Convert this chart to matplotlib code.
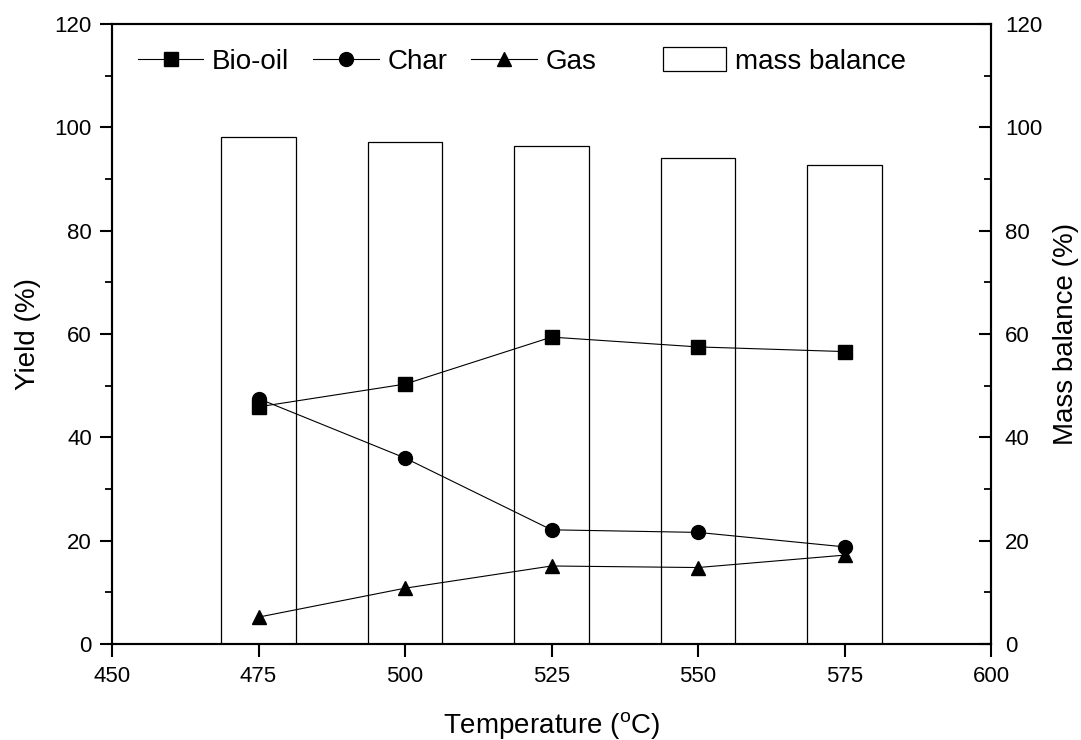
import matplotlib
matplotlib.use("Agg")
import matplotlib.pyplot as plt
from matplotlib.patches import Patch
from matplotlib.ticker import MultipleLocator

plt.rcParams['font.family'] = ['Liberation Sans', 'DejaVu Sans']
plt.rcParams['mathtext.fontset'] = 'custom'
plt.rcParams['mathtext.rm'] = 'Liberation Sans'

temps = [475, 500, 525, 550, 575]
bio_oil = [45.9, 50.3, 59.4, 57.5, 56.6]
char = [47.5, 36.0, 22.1, 21.6, 18.8]
gas = [5.2, 10.8, 15.1, 14.8, 17.2]
mass_balance = [98.2, 97.2, 96.4, 94.1, 92.8]

W, H = 1081, 740
fig = plt.figure(figsize=(W / 100, H / 100), dpi=100)
# axes box in pixels: left 112, right 991, top 24, bottom 644
ax = fig.add_axes([112 / W, 1 - 644 / H, (991 - 112) / W, (644 - 24) / H])
ax2 = ax.twinx()

ax2.bar(temps, mass_balance, width=12.7, facecolor="white", edgecolor="black",
        linewidth=0.9, zorder=1)
ax.set_zorder(ax2.get_zorder() + 1)
ax.patch.set_visible(False)

lkw = dict(color="black", lw=0.8)
l1, = ax.plot(temps, bio_oil, marker="s", markersize=9.5, label="Bio-oil", **lkw)
l2, = ax.plot(temps, char, marker="o", markersize=10, label="Char", **lkw)
l3, = ax.plot(temps, gas, marker="^", markersize=10.5, label="Gas", **lkw)

for a in (ax, ax2):
    a.set_xlim(450, 600)
    a.set_ylim(0, 120)
    a.yaxis.set_major_locator(MultipleLocator(20))
    a.yaxis.set_minor_locator(MultipleLocator(10))
    for s in a.spines.values():
        s.set_linewidth(1.5)

ax.xaxis.set_major_locator(MultipleLocator(25))
ax.tick_params(axis="y", which="major", direction="out", length=8.5, width=1.5,
               labelsize=16, pad=6)
ax.tick_params(axis="y", which="minor", direction="out", length=5, width=1.3)
ax.tick_params(axis="x", which="major", direction="out", length=9, width=1.5,
               labelsize=16, pad=7)
ax2.tick_params(axis="y", which="major", direction="in", length=8.5, width=1.5,
                labelsize=16, pad=10)
ax2.tick_params(axis="y", which="minor", direction="in", length=5, width=1.3)
ax2.tick_params(axis="x", which="both", bottom=False, top=False)

ax.set_xlabel("Temperature ($^{\\mathrm{o}}$C)", fontsize=20)
ax.xaxis.set_label_coords(0.5, -0.107)
ax.set_ylabel("Yield (%)", fontsize=20, labelpad=10)
ax2.set_ylabel("Mass balance (%)", fontsize=20, labelpad=8)

leg1 = fig.legend(handles=[l1, l2, l3], loc="center left", ncol=3, frameon=False,
                  fontsize=20, handlelength=2.35, handletextpad=0.32,
                  columnspacing=0.86, borderpad=0, borderaxespad=0,
                  bbox_to_anchor=(138 / W, 1 - 62 / H))
box = Patch(facecolor="white", edgecolor="black", linewidth=0.9, label="mass balance")
fig.legend(handles=[box], loc="center left", frameon=False, fontsize=20,
           handlelength=2.27, handleheight=0.9, handletextpad=0.32,
           borderpad=0, borderaxespad=0,
           bbox_to_anchor=(663 / W, 1 - 61 / H))

fig.savefig("out.png", dpi=100)
